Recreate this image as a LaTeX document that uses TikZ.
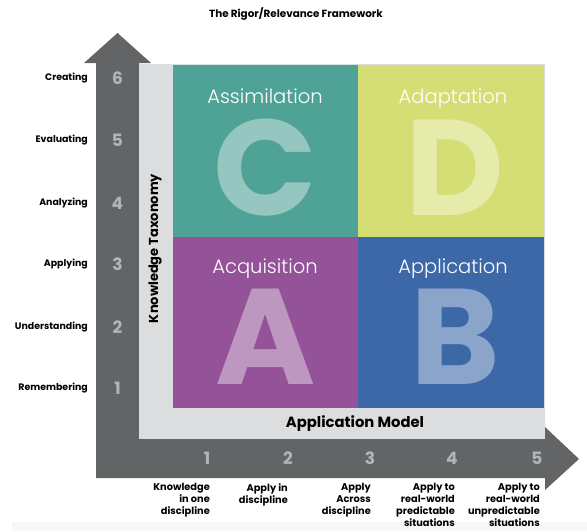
\documentclass[tikz,border=0pt]{standalone}
\usepackage{fontspec}
\setmainfont{Poppins}
\newfontfamily\poplight{Poppins Light}
\newfontfamily\popsemi{Poppins SemiBold}
\begin{document}
\definecolor{arrowgray}{HTML}{636466}
\definecolor{panelgray}{HTML}{DCDDDF}
\definecolor{numgray}{HTML}{B3B4B6}
\definecolor{qteal}{HTML}{4FA396}
\definecolor{qlime}{HTML}{D4DE74}
\definecolor{qpurple}{HTML}{945299}
\definecolor{qblue}{HTML}{3D68A8}
\tikzset{
  axisnum/.style={text=numgray, font=\bfseries\fontsize{17}{17}\selectfont, inner sep=0pt},
  levellabel/.style={anchor=east, font=\bfseries\fontsize{9.4}{10}\selectfont, inner sep=0pt},
  modellabel/.style={anchor=north east, align=right, font=\bfseries\fontsize{9.8}{12}\selectfont, inner sep=0pt},
  quadtitle/.style={anchor=base, text=white, font=\poplight\fontsize{19.5}{20}\selectfont, inner sep=0pt},
  bigletter/.style={anchor=base, text=white, text opacity=0.4, font=\bfseries\fontsize{136}{136}\selectfont, inner sep=0pt},
  axistitle/.style={font=\bfseries\fontsize{13}{14}\selectfont, inner sep=0pt}
}
\begin{tikzpicture}[x=1pt,y=-1pt]
\useasboundingbox (0,0) rectangle (587,531);
% faint strip along the lower edge
\fill[black!3] (12,522) rectangle (587,531);

\node[font=\bfseries\fontsize{10.4}{11}\selectfont, inner sep=0pt] (title) at (296,14) {The Rigor/Relevance Framework};

% L-shaped double arrow
\fill[arrowgray] (96,478) -- (96,63) -- (84,63) -- (117.5,33) -- (151,63) -- (139,63)
  -- (139,439) -- (545,439) -- (545,427) -- (579,459) -- (545,490) -- (545,478) -- cycle;

% light panel behind the quadrants
\fill[panelgray] (139,64) rectangle (545,439);

% quadrants
\fill[qteal]   (173,65) rectangle (358,237);
\fill[qlime]   (358,65) rectangle (544,237);
\fill[qpurple] (173,237) rectangle (358,408);
\fill[qblue]   (358,237) rectangle (544,408);

\node[bigletter] (bigC) at (265,215) {\smash{C}};
\node[bigletter] (bigD) at (455,215) {\smash{D}};
\node[bigletter] (bigA) at (266,384) {\smash{A}};
\node[bigletter] (bigB) at (455,384) {\smash{B}};

\node[quadtitle] (assim) at (265,103) {Assimilation};
\node[quadtitle] (adapt) at (453,103) {Adaptation};
\node[quadtitle] (acq) at (265,273) {Acquisition};
\node[quadtitle] (appl) at (453,273) {Application};

\node[axistitle, rotate=90] (ktax) at (155,248.5) {Knowledge Taxonomy};
\node[axistitle, font=\bfseries\fontsize{14.8}{15}\selectfont] (amodel) at (355,423.5) {Application Model};

% knowledge levels
\foreach \n/\y/\t in {6/78/Creating,5/140/Evaluating,4/203/Analyzing,3/264/Applying,2/327/Understanding,1/388/Remembering}{
  \node[axisnum] (kn\n) at (117.5,\y) {\n};
  \node[levellabel] (kl\n) at (88,\y) {\t};
}

% application levels
\foreach \n/\x in {1/207,2/288,3/370,4/452,5/537}{
  \node[axisnum] (an\n) at (\x,458) {\n};
}
\node[modellabel] (al1) at (210,483) {Knowledge\\in one\\discipline};
\node[modellabel] (al2) at (288,483) {Apply in\\discipline};
\node[modellabel] (al3) at (371,483) {Apply\\Across\\discipline};
\node[modellabel] (al4) at (455,483) {Apply to\\real-world\\predictable\\situations};
\node[modellabel] (al5) at (540,483) {Apply to\\real-world\\unpredictable\\situations};
\end{tikzpicture}
\end{document}
